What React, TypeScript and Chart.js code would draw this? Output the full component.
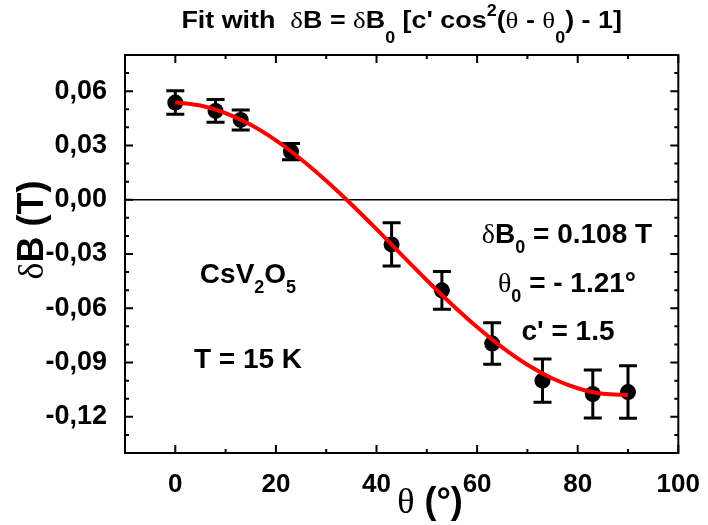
import React, { useEffect, useRef } from 'react';
import { Chart, registerables } from 'chart.js';

Chart.register(...registerables);

// ---- data ----
const thetaDeg = [0, 8, 13, 23, 43, 53, 63, 73, 83, 90];
const deltaB = [0.0537, 0.0491, 0.0441, 0.0266, -0.0247, -0.0501, -0.0795, -0.1, -0.1074, -0.1063];
const deltaBErr = [0.0065, 0.0063, 0.0055, 0.0045, 0.012, 0.0104, 0.0115, 0.012, 0.0133, 0.0145];

const fitTheta = [0, 5, 10, 15, 20, 25, 30, 35, 40, 45, 50, 55, 60, 65, 70, 75, 80, 85, 90];
const fitDeltaB = [
  0.0539, 0.0521, 0.0479, 0.0414, 0.0328, 0.0224, 0.0105, -0.0025, -0.0163, -0.0305,
  -0.0445, -0.0579, -0.0704, -0.0816, -0.0912, -0.0988, -0.1042, -0.1073, -0.1079,
];

const xTickValues = [0, 20, 40, 60, 80, 100];
const xMinorTickValues = [10, 30, 50, 70, 90];
const yTickValues = [-0.12, -0.09, -0.06, -0.03, 0, 0.03, 0.06];
const yMinorTickValues = [0.07, 0.05, 0.04, 0.02, 0.01, -0.01, -0.02, -0.04, -0.05, -0.07, -0.08, -0.1, -0.11, -0.13];

const SANS = "'Liberation Sans', Arial, sans-serif";
const SERIF = "'Liberation Serif', 'Times New Roman', serif";

type Seg = { t: string; size?: number; dy?: number; weight?: string; family?: string };

function drawRich(
  ctx: CanvasRenderingContext2D,
  segs: Seg[],
  x: number,
  baseline: number,
  baseSize: number,
  align: 'left' | 'center' = 'center',
  stretch = 1,
) {
  const fontOf = (s: Seg) => `${s.weight ?? 'bold'} ${s.size ?? baseSize}px ${s.family ?? SANS}`;
  ctx.save();
  ctx.textAlign = 'left';
  ctx.textBaseline = 'alphabetic';
  ctx.fillStyle = '#000';
  const widths = segs.map((s) => {
    ctx.font = fontOf(s);
    return ctx.measureText(s.t).width;
  });
  const total = widths.reduce((a, b) => a + b, 0);
  ctx.translate(x, baseline);
  ctx.scale(stretch, 1);
  let cx = align === 'center' ? -total / 2 : 0;
  segs.forEach((s, i) => {
    ctx.font = fontOf(s);
    ctx.fillText(s.t, cx, s.dy ?? 0);
    cx += widths[i];
  });
  ctx.restore();
}

const framePlugin = {
  id: 'framePlugin',
  beforeDatasetsDraw(chart: any) {
    const { ctx, chartArea: a, scales } = chart;
    const xs = scales.x;
    const ys = scales.y;
    ctx.save();
    // zero line
    const y0 = ys.getPixelForValue(0);
    ctx.strokeStyle = '#000';
    ctx.lineWidth = 1.5;
    ctx.beginPath();
    ctx.moveTo(a.left, y0);
    ctx.lineTo(a.right, y0);
    ctx.stroke();
    // error bars
    ctx.lineWidth = 3;
    const cap = 9;
    thetaDeg.forEach((t, i) => {
      const px = xs.getPixelForValue(t);
      const top = ys.getPixelForValue(deltaB[i] + deltaBErr[i]);
      const bot = ys.getPixelForValue(deltaB[i] - deltaBErr[i]);
      ctx.beginPath();
      ctx.moveTo(px, top);
      ctx.lineTo(px, bot);
      ctx.moveTo(px - cap, top);
      ctx.lineTo(px + cap, top);
      ctx.moveTo(px - cap, bot);
      ctx.lineTo(px + cap, bot);
      ctx.stroke();
    });
    ctx.restore();
  },
  afterDraw(chart: any) {
    const { ctx, chartArea: a, scales } = chart;
    const xs = scales.x;
    const ys = scales.y;
    ctx.save();
    ctx.strokeStyle = '#000';
    ctx.lineWidth = 2;
    ctx.lineCap = 'butt';
    ctx.strokeRect(a.left, a.top, a.right - a.left, a.bottom - a.top);
    const major = 8;
    const minor = 4;
    ctx.beginPath();
    const xTick = (v: number, len: number) => {
      const px = xs.getPixelForValue(v);
      ctx.moveTo(px, a.bottom);
      ctx.lineTo(px, a.bottom - len);
      ctx.moveTo(px, a.top);
      ctx.lineTo(px, a.top + len);
    };
    const yTick = (v: number, len: number) => {
      const py = ys.getPixelForValue(v);
      ctx.moveTo(a.left, py);
      ctx.lineTo(a.left + len, py);
      ctx.moveTo(a.right, py);
      ctx.lineTo(a.right - len, py);
    };
    xTickValues.forEach((v) => xTick(v, major));
    xMinorTickValues.forEach((v) => xTick(v, minor));
    yTickValues.forEach((v) => yTick(v, major));
    yMinorTickValues.forEach((v) => yTick(v, minor));
    ctx.stroke();
    ctx.restore();

    // title
    const G = { weight: 'normal', family: SERIF };
    drawRich(
      ctx,
      [
        { t: 'Fit with  ' },
        { t: 'δ', ...G },
        { t: 'B = ' },
        { t: 'δ', ...G },
        { t: 'B' },
        { t: '0', size: 16, dy: 15 },
        { t: ' [c\' cos' },
        { t: '2', size: 16, dy: -12 },
        { t: '(' },
        { t: 'θ', ...G },
        { t: ' - ' },
        { t: 'θ', ...G },
        { t: '0', size: 16, dy: 15 },
        { t: ') - 1]' },
      ],
      (a.left + a.right) / 2,
      28,
      24,
      'center',
      1.12,
    );

    // axis titles
    ctx.save();
    ctx.translate(43, 230);
    ctx.rotate(-Math.PI / 2);
    drawRich(ctx, [{ t: 'δ', weight: 'normal', family: SERIF }, { t: 'B (T)' }], 0, 0, 36);
    ctx.restore();
    drawRich(ctx, [{ t: 'θ', weight: 'normal', family: SERIF }, { t: ' (°)' }], 430, 513, 36);

    // annotations
    drawRich(ctx, [{ t: 'δ', ...G }, { t: 'B' }, { t: '0', size: 18, dy: 10 }, { t: ' = 0.108 T' }], 567, 243, 28);
    drawRich(ctx, [{ t: 'θ', ...G }, { t: '0', size: 18, dy: 10 }, { t: ' = - 1.21°' }], 567, 292, 28);
    drawRich(ctx, [{ t: 'c\' = 1.5' }], 568, 340, 28);
    drawRich(ctx, [{ t: 'CsV' }, { t: '2', size: 18, dy: 10 }, { t: 'O' }, { t: '5', size: 18, dy: 10 }], 248, 283, 28);
    drawRich(ctx, [{ t: 'T = 15 K' }], 248, 368, 28);
  },
};

export default function App() {
  const ref = useRef<HTMLCanvasElement | null>(null);
  useEffect(() => {
    if (!ref.current) return;
    const chart = new Chart(ref.current, {
      type: 'scatter',
      data: {
        datasets: [
          {
            type: 'line',
            label: 'fit',
            data: fitTheta.map((t, i) => ({ x: t, y: fitDeltaB[i] })),
            borderColor: '#ff0000',
            borderWidth: 4,
            pointRadius: 0,
            fill: false,
            cubicInterpolationMode: 'monotone',
          } as any,
          {
            type: 'scatter',
            label: 'data',
            data: thetaDeg.map((t, i) => ({ x: t, y: deltaB[i] })),
            backgroundColor: '#000',
            borderColor: '#000',
            borderWidth: 0,
            pointRadius: 8,
          },
        ],
      },
      options: {
        animation: false,
        responsive: true,
        maintainAspectRatio: false,
        layout: { padding: { top: 55, right: 25, left: 0, bottom: 0 } },
        plugins: { legend: { display: false }, title: { display: false }, tooltip: { enabled: false } },
        scales: {
          x: {
            type: 'linear',
            min: -10,
            max: 100,
            grid: { display: false },
            border: { display: false },
            afterBuildTicks: (s: any) => {
              s.ticks = xTickValues.map((v) => ({ value: v }));
            },
            afterFit: (s: any) => {
              s.height = 72;
            },
            ticks: {
              color: '#000',
              font: { family: SANS, size: 26, weight: 'bold' },
              padding: 8,
              maxRotation: 0,
              autoSkip: false,
              callback: (v: any) => String(v),
            },
          },
          y: {
            type: 'linear',
            min: -0.14,
            max: 0.08,
            grid: { display: false },
            border: { display: false },
            afterBuildTicks: (s: any) => {
              s.ticks = yTickValues.map((v) => ({ value: v }));
            },
            afterFit: (s: any) => {
              s.width = 125;
            },
            ticks: {
              color: '#000',
              font: { family: SANS, size: 27, weight: 'bold' },
              padding: 10,
              autoSkip: false,
              callback: (v: any) => Number(v).toFixed(2).replace('.', ','),
            },
          },
        },
      } as any,
      plugins: [framePlugin],
    });
    return () => chart.destroy();
  }, []);
  return (
    <div style={{ position: 'fixed', left: 0, top: 0, width: 708, height: 525, background: '#fff' }}>
      <canvas ref={ref} />
    </div>
  );
}
